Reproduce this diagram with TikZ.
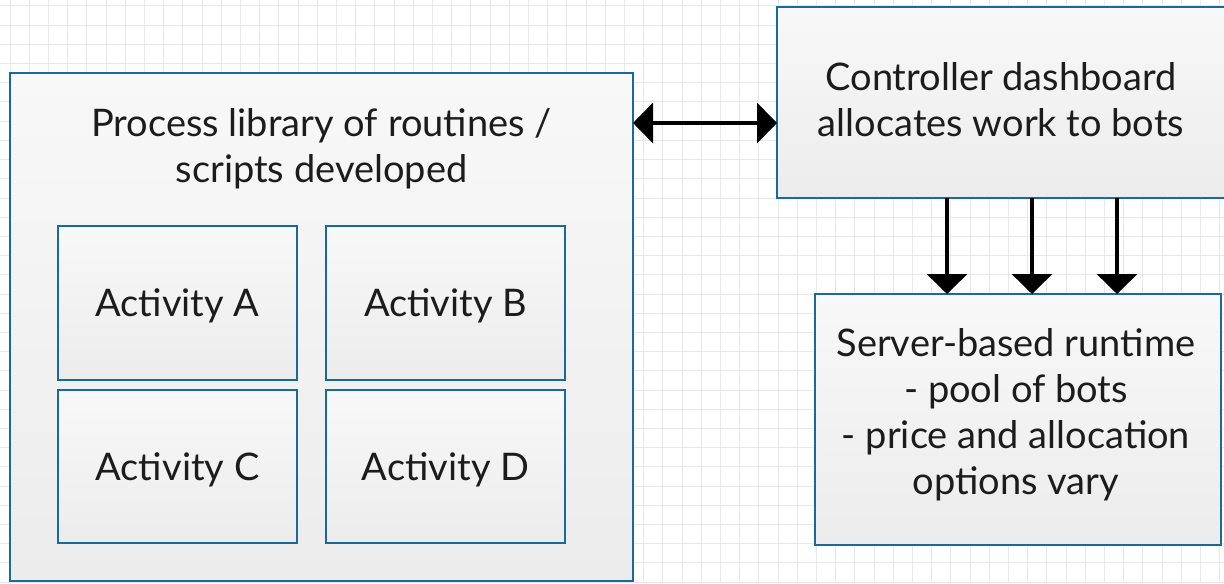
\documentclass[tikz,border=0pt]{standalone}
\usepackage{fontspec}
\setmainfont{Lato}
\usetikzlibrary{arrows.meta}
\definecolor{boxblue}{RGB}{24,106,156}
\definecolor{gridgray}{RGB}{232,232,232}
\definecolor{filltop}{RGB}{248,248,248}
\definecolor{fillbot}{RGB}{236,236,236}
\definecolor{txtcol}{RGB}{28,28,28}
\begin{document}
\begin{tikzpicture}[x=0.5pt,y=-0.5pt,
  box/.style={draw=boxblue, line width=1.45pt, top color=filltop, bottom color=fillbot,
    inner sep=0pt, outer sep=0pt, anchor=north west},
  txt/.style={align=center, inner sep=0pt, text=txtcol, font=\fontsize{19}{23}\selectfont},
  arr/.style={line width=1.7pt, -{Triangle[width=20pt,length=10pt]}},
  darr/.style={line width=1.8pt, {Triangle[width=20pt,length=10pt]}-{Triangle[width=20pt,length=10pt]}},
  gridline/.style={draw=gridgray, line width=0.5pt}]
\useasboundingbox (0,0) rectangle (1224,583);
\clip (0,0) rectangle (1224,583);
\fill[white] (0,0) rectangle (1224,583);
% grid
\foreach \i in {0,...,63} {\draw[gridline] (10+19.2*\i,0) -- (10+19.2*\i,583);}
\foreach \j in {0,...,30} {\draw[gridline] (0,6+19.2*\j) -- (1224,6+19.2*\j);}
% library box
\node[box, minimum width=311.5pt, minimum height=254pt] (lib) at (10,73) {};
\node[txt] (libtitle) at (321.5,149) {Process library of routines /\\ scripts developed};
\node[box, minimum width=119.5pt, minimum height=77pt] (actA) at (58,226) {};
\node[box, minimum width=119.5pt, minimum height=77pt] (actB) at (326,226) {};
\node[box, minimum width=119.5pt, minimum height=76.5pt] (actC) at (58,390) {};
\node[box, minimum width=119.5pt, minimum height=76.5pt] (actD) at (326,390) {};
\node[txt, yshift=-1.5pt] (actAt) at (actA.center) {Activity A};
\node[txt, yshift=-1.5pt] (actBt) at (actB.center) {Activity B};
\node[txt, yshift=-1.5pt] (actCt) at (actC.center) {Activity C};
\node[txt, yshift=-1.5pt] (actDt) at (actD.center) {Activity D};
% controller
\node[box, minimum width=224.5pt, minimum height=95.5pt] (ctrl) at (777,7) {};
\node[txt] (ctrlt) at (1001,99.5) {Controller dashboard\\ allocates work to bots};
% server
\node[box, minimum width=203pt, minimum height=125.5pt] (server) at (815,294) {};
\node[txt] (servert) at (1016,415) {Server-based runtime\\ - pool of bots\\ - price and allocation\\ options vary};
% connectors
\draw[darr] (lib.east |- 0,123) -- (ctrl.west |- 0,123);
\coordinate (d1) at (947,0);
\coordinate (d2) at (1032,0);
\coordinate (d3) at (1117,0);
\draw[arr] (ctrl.south -| d1) -- (server.north -| d1);
\draw[arr] (ctrl.south -| d2) -- (server.north -| d2);
\draw[arr] (ctrl.south -| d3) -- (server.north -| d3);
\end{tikzpicture}
\end{document}
